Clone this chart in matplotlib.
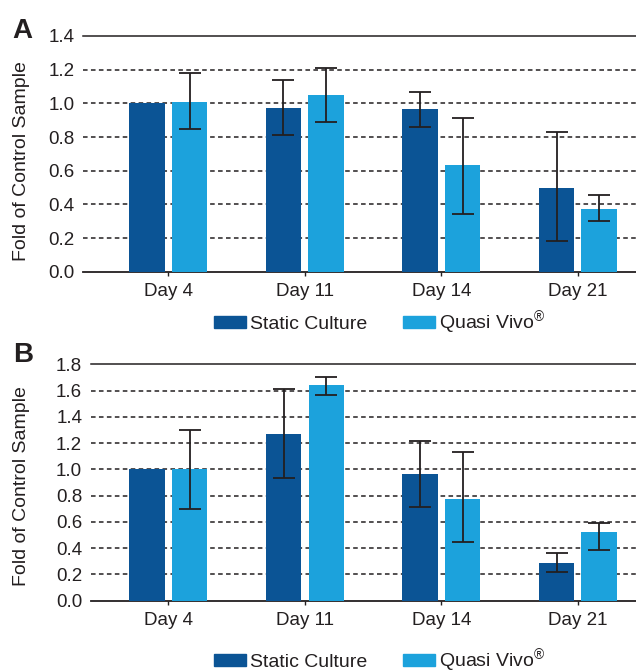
import numpy as np
import matplotlib
matplotlib.use('Agg')
import matplotlib.pyplot as plt
from matplotlib.patches import Patch

plt.rcParams['font.family'] = ['Liberation Sans', 'DejaVu Sans']
plt.rcParams['mathtext.fontset'] = 'custom'
plt.rcParams['mathtext.rm'] = 'Liberation Sans'
plt.rcParams['mathtext.it'] = 'Liberation Sans:italic'

# data
days = ['Day 4', 'Day 11', 'Day 14', 'Day 21']

# panel A
static_a = [1.00, 0.97, 0.965, 0.50]
static_a_lo = [np.nan, 0.81, 0.86, 0.18]
static_a_hi = [np.nan, 1.14, 1.07, 0.83]
quasi_a = [1.01, 1.05, 0.635, 0.375]
quasi_a_lo = [0.85, 0.89, 0.345, 0.30]
quasi_a_hi = [1.18, 1.21, 0.915, 0.455]

# panel B
static_b = [1.00, 1.27, 0.965, 0.29]
static_b_lo = [np.nan, 0.935, 0.715, 0.22]
static_b_hi = [np.nan, 1.61, 1.215, 0.36]
quasi_b = [1.00, 1.64, 0.775, 0.525]
quasi_b_lo = [0.70, 1.565, 0.445, 0.385]
quasi_b_hi = [1.30, 1.705, 1.13, 0.59]

dark = '#0b5495'
light = '#1ca2dc'
ink = '#231f20'

W, H = 636, 672
fig = plt.figure(figsize=(W / 100, H / 100), dpi=100)


def px_axes(left, top, bottom):
    return fig.add_axes([left / W, 1 - bottom / H, (W - left) / W, (bottom - top) / H])


def draw_errors(ax, x, vals, lo, hi):
    x = np.asarray(x, dtype=float)
    vals = np.asarray(vals, dtype=float)
    lo = np.asarray(lo, dtype=float)
    hi = np.asarray(hi, dtype=float)
    ok = ~np.isnan(lo)
    yerr = [vals[ok] - lo[ok], hi[ok] - vals[ok]]
    ax.errorbar(x[ok], vals[ok], yerr=yerr, fmt='none', ecolor=ink,
                elinewidth=1.3, capsize=8, capthick=1.3, zorder=4)


def panel(ax, static, s_lo, s_hi, quasi, q_lo, q_hi, ymax, xleft):
    x = np.arange(len(days))
    off = 0.156
    bw = 0.259
    ax.bar(x - off, static, bw, color=dark, zorder=3)
    ax.bar(x + off, quasi, bw, color=light, zorder=3)
    draw_errors(ax, x - off, static, s_lo, s_hi)
    draw_errors(ax, x + off, quasi, q_lo, q_hi)

    ax.set_ylim(0, ymax)
    ax.set_xlim(xleft, 3.426)
    ticks = np.arange(0, ymax + 0.001, 0.2)
    ax.set_yticks(ticks)
    ax.set_yticklabels(['%.1f' % t for t in ticks])
    for t in ticks[1:-1]:
        ax.axhline(t, color=ink, lw=1.1, ls=(0, (3, 2.2)), zorder=1)

    ax.set_xticks(x)
    ax.set_xticklabels(days)
    for s in ['left', 'right']:
        ax.spines[s].set_visible(False)
    ax.spines['top'].set_color(ink)
    ax.spines['top'].set_linewidth(1.1)
    ax.spines['bottom'].set_color(ink)
    ax.spines['bottom'].set_linewidth(1.3)
    ax.tick_params(axis='y', length=0, pad=6, labelsize=13.5, colors=ink)
    ax.tick_params(axis='x', length=3, width=1, pad=5, labelsize=13.5,
                   colors=ink, direction='out')
    ax.set_ylabel('Fold of Control Sample', fontsize=14, color=ink)


ax1 = px_axes(83, 36, 271.7)
panel(ax1, static_a, static_a_lo, static_a_hi, quasi_a, quasi_a_lo, quasi_a_hi, 1.4, -0.624)
ax1.yaxis.set_label_coords(-0.096, 0.47)

ax2 = px_axes(90.5, 364.3, 600.7)
panel(ax2, static_b, static_b_lo, static_b_hi, quasi_b, quasi_b_lo, quasi_b_hi, 1.8, -0.571)
ax2.yaxis.set_label_coords(-0.111, 0.486)

fig.text(22 / W, 1 - 30.5 / H, 'A', fontsize=20, fontweight='bold', color=ink,
         ha='center', va='center')
fig.text(23 / W, 1 - 355.5 / H, 'B', fontsize=20, fontweight='bold', color=ink,
         ha='center', va='center')

handles = [Patch(color=dark, label='Static Culture'),
           Patch(color=light, label='Quasi Vivo$^{\u00ae}$')]
for yc in [323, 661]:
    fig.legend(handles=handles, loc='center', bbox_to_anchor=(379.5 / W, 1 - yc / H),
               ncol=2, frameon=False, fontsize=14, handlelength=1.65,
               handleheight=0.57, handletextpad=0.2, columnspacing=1.85,
               borderpad=0, borderaxespad=0, labelcolor=ink)

fig.savefig('out.png', dpi=100)
